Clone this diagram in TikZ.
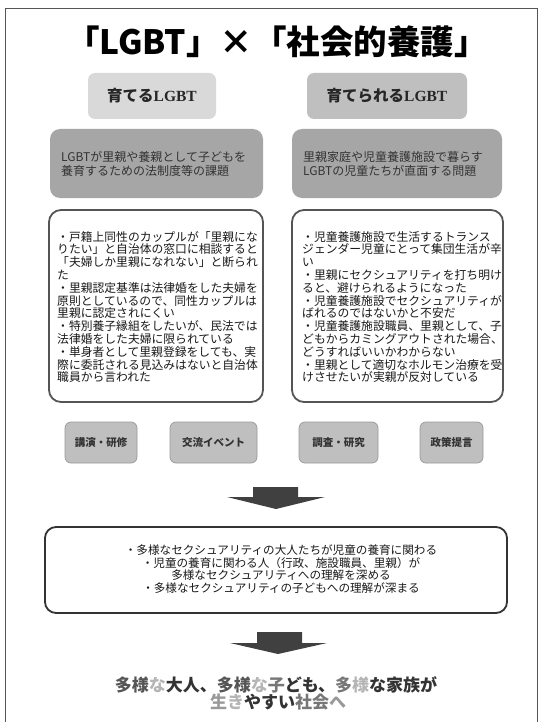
\documentclass[tikz,border=0pt]{standalone}
\usepackage{fontspec}
\setmainfont{Noto Sans CJK JP}
\newfontfamily\lserif{Liberation Serif}
\definecolor{hdrA}{HTML}{D9D9D9}
\definecolor{hdrB}{HTML}{BFBFBF}
\definecolor{grayBox}{HTML}{A6A6A6}
\definecolor{smallBox}{HTML}{BFBFBF}
\definecolor{edge}{HTML}{555555}
\definecolor{arrowc}{HTML}{404040}
\definecolor{gA}{HTML}{333333}
\definecolor{gB}{HTML}{555555}
\definecolor{gC}{HTML}{777777}
\definecolor{gD}{HTML}{999999}
\definecolor{gE}{HTML}{B5B5B5}
\begin{document}
\begin{tikzpicture}[x=1pt,y=-1pt,
  frame/.style={draw=edge,line width=0.9pt},
  hdr/.style={rounded corners=7pt,inner sep=0pt,font=\fontsize{15.5}{17}\selectfont\bfseries,text=black!85},
  graybox/.style={fill=grayBox,rounded corners=10pt,inner sep=0pt,minimum height=69pt},
  whitebox/.style={draw=edge,line width=1.8pt,fill=white,rounded corners=12pt,inner sep=0pt,minimum height=192pt},
  smallbox/.style={draw=gray!80,line width=0.7pt,fill=smallBox,rounded corners=6pt,inner sep=0pt,minimum height=41pt,font=\fontsize{10.5}{12}\selectfont\bfseries,text=black!80},
  bodytext/.style={inner sep=0pt,align=left,font=\fontsize{11.8}{12.8}\selectfont,text=black!90},
  graytext/.style={inner sep=0pt,align=left,font=\fontsize{12}{14.5}\selectfont,text=gA},
  bigarrow/.style={fill=arrowc},
  finaltext/.style={inner sep=0pt,align=center,font=\fontsize{17}{17.5}\selectfont\bfseries}
]
\useasboundingbox (0,0) rectangle (540,722);
\fill[white] (0,0) rectangle (540,722);
\draw[frame] (5,722) -- (5,8) -- (537,8) -- (537,722);

\node[inner sep=0pt,font=\fontsize{33.5}{36}\selectfont\bfseries] (title) at (277,42) {「LGBT」×「社会的養護」};

\node[hdr,fill=hdrA,minimum width=128pt,minimum height=46pt] (h1) at (152,96) {育てる{\lserif\bfseries LGBT}};
\node[hdr,fill=hdrB,minimum width=160pt,minimum height=46pt] (h2) at (387,96) {育てられる{\lserif\bfseries LGBT}};

\node[graybox,minimum width=213pt] (g1) at (156.5,163.5) {};
\node[graytext,anchor=west] (g1t) at (61,164) {LGBTが里親や養親として子どもを\\養育するための法制度等の課題};
\node[graybox,minimum width=210pt] (g2) at (397,163.5) {};
\node[graytext,anchor=west] (g2t) at (303,164) {里親家庭や児童養護施設で暮らす\\LGBTの児童たちが直面する問題};

\node[whitebox,minimum width=214pt] (w1) at (156,306) {};
\node[bodytext,anchor=north west] (w1t) at (57,231) {・戸籍上同性のカップルが「里親にな\\りたい」と自治体の窓口に相談すると\\「夫婦しか里親になれない」と断られ\\た\\・里親認定基準は法律婚をした夫婦を\\原則としているので、同性カップルは\\里親に認定されにくい\\・特別養子縁組をしたいが、民法では\\法律婚をした夫婦に限られている\\・単身者として里親登録をしても、実\\際に委託される見込みはないと自治体\\職員から言われた};

\node[whitebox,minimum width=211pt] (w2) at (397.5,306) {};
\node[bodytext,anchor=north west] (w2t) at (302,231) {・児童養護施設で生活するトランス\\ジェンダー児童にとって集団生活が辛\\い\\・里親にセクシュアリティを打ち明け\\ると、避けられるようになった\\・児童養護施設でセクシュアリティが\\ばれるのではないかと不安だ\\・児童養護施設職員、里親として、子\\どもからカミングアウトされた場合、\\どうすればいいかわからない\\・里親として適切なホルモン治療を受\\けさせたいが実親が反対している};

\node[smallbox,minimum width=72pt] (s1) at (101,442.5) {講演・研修};
\node[smallbox,minimum width=87pt] (s2) at (213.5,442.5) {交流イベント};
\node[smallbox,minimum width=79pt] (s3) at (338.5,442.5) {調査・研究};
\node[smallbox,minimum width=63pt] (s4) at (451.5,442.5) {政策提言};

\fill[bigarrow] (253,487) -- (298,487) -- (298,497) -- (325,497) -- (276,509) -- (227,497) -- (253,497) -- cycle;

\node[draw=black!80,line width=1.8pt,rounded corners=11pt,minimum width=462pt,minimum height=86pt,inner sep=0pt] (b) at (276,570) {};
\node[inner sep=0pt,align=center,font=\fontsize{11.6}{12.7}\selectfont,text=black!90] (bt) at (281,569) {・多様なセクシュアリティの大人たちが児童の養育に関わる\\・児童の養育に関わる人（行政、施設職員、里親）が\\多様なセクシュアリティへの理解を深める\\・多様なセクシュアリティの子どもへの理解が深まる};

\fill[bigarrow] (257,632) -- (302,632) -- (302,643) -- (327,643) -- (278,654) -- (230,643) -- (257,643) -- cycle;

\node[finaltext] (f1) at (276,685) {\textcolor{gB}{多様}\textcolor{gE}{な}\textcolor{gA}{大人、}\textcolor{gB}{多様}\textcolor{gE}{な}\textcolor{gC}{子}\textcolor{gA}{ども、}\textcolor{gC}{多}\textcolor{gE}{様}\textcolor{gA}{な家族が}};
\node[finaltext] (f2) at (278,702) {\textcolor{gD}{生}\textcolor{gE}{き}\textcolor{gA}{やすい}\textcolor{gC}{社会}\textcolor{gD}{へ}};
\end{tikzpicture}
\end{document}
